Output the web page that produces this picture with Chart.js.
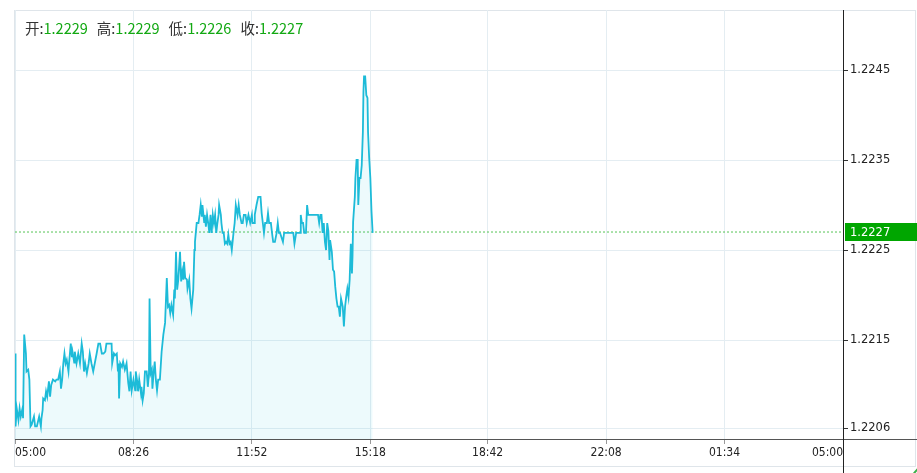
<!DOCTYPE html>
<html>
<head>
<meta charset="utf-8">
<script src="https://cdn.jsdelivr.net/npm/chart.js@4.4.1/dist/chart.umd.min.js"></script>
<style>
    html, body { margin: 0; padding: 0; background: #fff; }
</style>
</head>
<body>
<canvas id="chart" width="917" height="473"></canvas>
<script>
// minutes after 05:00
const minutes = [
    0, 1, 3, 6, 8, 10, 13, 14, 16, 19, 20, 23, 25, 27, 29, 33, 35, 38, 42, 45,
    46, 48, 49, 52, 54, 56, 59, 61, 63, 66, 70, 72, 75, 78, 80, 82, 84, 86, 88, 90,
    93, 94, 97, 99, 100, 103, 104, 107, 110, 113, 116, 118, 120, 122, 125, 128, 130, 133, 136, 139,
    142, 145, 148, 151, 154, 157, 159, 165, 168, 169, 172, 174, 177, 179, 180, 181, 183, 186, 188, 191,
    194, 197, 199, 201, 203, 206, 209, 210, 213, 214, 216, 219, 220, 222, 224, 226, 229, 231, 233, 234,
    236, 238, 239, 241, 243, 245, 247, 249, 252, 255, 258, 261, 264, 266, 268, 270, 272, 275, 277, 278,
    280, 282, 284, 287, 289, 291, 293, 294, 296, 299, 300, 303, 305, 307, 310, 312, 313, 316, 319, 321,
    323, 325, 326, 329, 330, 332, 334, 336, 338, 340, 342, 344, 346, 348, 350, 352, 354, 355, 358, 359,
    361, 363, 365, 367, 369, 371, 373, 375, 377, 380, 382, 384, 387, 389, 391, 394, 396, 398, 401, 403,
    406, 409, 412, 413, 416, 417, 420, 423, 427, 429, 431, 433, 435, 438, 440, 442, 445, 447, 449, 452,
    455, 457, 459, 461, 466, 468, 484, 486, 489, 496, 497, 499, 501, 503, 506, 508, 510, 527, 529, 531,
    533, 535, 537, 539, 541, 543, 545, 547, 548, 551, 553, 555, 557, 559, 561, 563, 565, 567, 570, 572,
    574, 576, 578, 580, 582, 584, 586, 587, 588, 591, 592, 594, 596, 597, 599, 601, 603, 605, 606, 607,
    609, 611, 612, 613, 614, 616, 618, 620, 622
];
const prices = [
    1.22135, 1.22054, 1.22074, 1.22061, 1.22074, 1.22065, 1.22074, 1.22063, 1.22156, 1.22135, 1.22115, 1.22117, 1.22106, 1.22054, 1.22056, 1.22065, 1.22054, 1.22054, 1.22065, 1.22054,
    1.22063, 1.22072, 1.22085, 1.22083, 1.22093, 1.22087, 1.22104, 1.22087, 1.22100, 1.22106, 1.22104, 1.22106, 1.22106, 1.22115, 1.22096, 1.22106, 1.22124, 1.22135, 1.22124, 1.22128,
    1.22115, 1.22124, 1.22146, 1.22131, 1.22137, 1.22125, 1.22137, 1.22124, 1.22135, 1.22124, 1.22146, 1.22137, 1.22115, 1.22124, 1.22113, 1.22124, 1.22135, 1.22124, 1.22115, 1.22125,
    1.22135, 1.22146, 1.22146, 1.22135, 1.22135, 1.22137, 1.22146, 1.22146, 1.22146, 1.22124, 1.22135, 1.22133, 1.22135, 1.22115, 1.22124, 1.22085, 1.22124, 1.22120, 1.22126, 1.22117,
    1.22124, 1.22102, 1.22093, 1.22115, 1.22094, 1.22106, 1.22094, 1.22115, 1.22102, 1.22093, 1.22106, 1.22091, 1.22098, 1.22083, 1.22091, 1.22115, 1.22115, 1.22098, 1.22113, 1.22196,
    1.22113, 1.22117, 1.22096, 1.22113, 1.22126, 1.22106, 1.22094, 1.22106, 1.22106, 1.22137, 1.22156, 1.22169, 1.22219, 1.22187, 1.22189, 1.22180, 1.22189, 1.22178, 1.22206, 1.22196,
    1.22248, 1.22206, 1.22217, 1.22248, 1.22215, 1.22226, 1.22217, 1.22237, 1.22219, 1.22217, 1.22207, 1.22217, 1.22196, 1.22185, 1.22206, 1.22250, 1.22259, 1.22280, 1.22280, 1.22289,
    1.22300, 1.22287, 1.22300, 1.22281, 1.22289, 1.22276, 1.22289, 1.22280, 1.22269, 1.22289, 1.22269, 1.22289, 1.22280, 1.22289, 1.22269, 1.22280, 1.22289, 1.22300, 1.22289, 1.22280,
    1.22269, 1.22269, 1.22257, 1.22259, 1.22257, 1.22267, 1.22257, 1.22259, 1.22250, 1.22269, 1.22280, 1.22300, 1.22289, 1.22300, 1.22289, 1.22280, 1.22280, 1.22289, 1.22289, 1.22280,
    1.22289, 1.22280, 1.22289, 1.22280, 1.22280, 1.22289, 1.22300, 1.22309, 1.22309, 1.22291, 1.22280, 1.22269, 1.22280, 1.22280, 1.22291, 1.22280, 1.22280, 1.22269, 1.22259, 1.22259,
    1.22269, 1.22280, 1.22269, 1.22269, 1.22259, 1.22269, 1.22269, 1.22257, 1.22269, 1.22269, 1.22289, 1.22280, 1.22280, 1.22269, 1.22269, 1.22300, 1.22289, 1.22289, 1.22280, 1.22289,
    1.22289, 1.22269, 1.22280, 1.22259, 1.22250, 1.22280, 1.22271, 1.22239, 1.22261, 1.22248, 1.22228, 1.22226, 1.22209, 1.22196, 1.22187, 1.22187, 1.22176, 1.22196, 1.22187, 1.22165,
    1.22187, 1.22198, 1.22207, 1.22198, 1.22217, 1.22257, 1.22224, 1.22243, 1.22281, 1.22309, 1.22330, 1.22350, 1.22350, 1.22300, 1.22330, 1.22330, 1.22344, 1.22381, 1.22426, 1.22443,
    1.22443, 1.22422, 1.22422, 1.22419, 1.22381, 1.22352, 1.22330, 1.22293, 1.22269
];

const xTickMinutes = [0, 206, 412, 618, 822, 1028, 1234, 1440];
const xTickLabels = ['05:00', '08:26', '11:52', '15:18', '18:42', '22:08', '01:34', '05:00'];
const yTickValues = [1.22052, 1.2215, 1.2225, 1.2235, 1.2245];
const yTickLabels = ['1.2206', '1.2215', '1.2225', '1.2235', '1.2245'];
const quoteNames = ['开', '高', '低', '收'];
const quoteValues = ['1.2229', '1.2229', '1.2226', '1.2227'];
const lastPrice = 1.2227;

const seriesPoints = minutes.map((m, i) => ({ x: m, y: prices[i] }));
const lastLine = [{ x: 0, y: lastPrice }, { x: 1440, y: lastPrice }];

// frame, extended axis lines, quote text and price tag
const decorPlugin = {
    id: 'decor',
    beforeDraw(chart) {
        const ctx = chart.ctx;
        ctx.save();
        ctx.strokeStyle = '#dfe5ea';
        ctx.lineWidth = 1;
        ctx.strokeRect(14.5, 10.5, 901, 456);
        ctx.restore();
    },
    afterDraw(chart) {
        const ctx = chart.ctx;
        const area = chart.chartArea;
        const yScale = chart.scales.y;
        ctx.save();

        // axis lines running into the margins
        ctx.strokeStyle = '#555';
        ctx.lineWidth = 1;
        ctx.beginPath();
        ctx.moveTo(area.left, Math.round(area.bottom) + 0.5);
        ctx.lineTo(917, Math.round(area.bottom) + 0.5);
        ctx.stroke();
        ctx.strokeStyle = '#222';
        ctx.beginPath();
        ctx.moveTo(Math.round(area.right) + 0.5, 10);
        ctx.lineTo(Math.round(area.right) + 0.5, 473);
        ctx.stroke();

        // current price tag
        const py = yScale.getPixelForValue(lastPrice);
        ctx.fillStyle = '#00a600';
        ctx.fillRect(area.right + 2, Math.round(py) - 9, 917 - area.right - 2, 18);
        ctx.fillStyle = '#fff';
        ctx.font = '11.5px "DejaVu Sans", sans-serif';
        ctx.textBaseline = 'middle';
        ctx.textAlign = 'left';
        ctx.fillText(lastPrice.toFixed(4), area.right + 7, Math.round(py) + 1);

        // open / high / low / close
        ctx.font = '14.5px "Noto Sans CJK SC", sans-serif';
        ctx.textBaseline = 'middle';
        let x = 25;
        quoteNames.forEach((name, i) => {
            ctx.fillStyle = '#333';
            ctx.fillText(name + ':', x, 28);
            x += ctx.measureText(name + ':').width;
            ctx.fillStyle = '#12a812';
            ctx.fillText(quoteValues[i], x, 28);
            x += ctx.measureText(quoteValues[i]).width + 9;
        });

        // corner logo fragment
        ctx.strokeStyle = '#3cb04a';
        ctx.lineWidth = 2;
        ctx.beginPath();
        ctx.arc(940, 492, 32, Math.PI * 1.05, Math.PI * 1.45);
        ctx.stroke();
        ctx.restore();
    }
};

const ctx = document.getElementById('chart').getContext('2d');
new Chart(ctx, {
    type: 'line',
    data: {
        datasets: [{
            data: seriesPoints,
            borderColor: '#1dbbd8',
            backgroundColor: 'rgba(29, 187, 216, 0.08)',
            borderWidth: 1.8,
            pointRadius: 0,
            tension: 0,
            fill: 'start'
        }, {
            data: lastLine,
            borderColor: '#55c455',
            borderWidth: 1,
            borderDash: [2, 2],
            pointRadius: 0,
            fill: false
        }]
    },
    options: {
        responsive: false,
        animation: false,
        layout: {
            padding: { left: 15, top: 10, right: 0, bottom: 0 }
        },
        plugins: {
            legend: { display: false },
            tooltip: { enabled: false }
        },
        scales: {
            x: {
                type: 'linear',
                min: 0,
                max: 1440,
                afterBuildTicks: scale => {
                    scale.ticks = xTickMinutes.map(v => ({ value: v }));
                },
                afterFit: scale => { scale.height = 34; },
                grid: {
                    color: '#e4edf2',
                    tickColor: '#999',
                    tickLength: 5
                },
                border: { color: '#555' },
                ticks: {
                    align: 'inner',
                    maxRotation: 0,
                    autoSkip: false,
                    padding: 2,
                    color: '#222',
                    font: { family: '"DejaVu Sans Condensed", "DejaVu Sans", sans-serif', size: 12 },
                    callback: function(value) {
                        const i = xTickMinutes.indexOf(value);
                        return i >= 0 ? xTickLabels[i] : '';
                    }
                }
            },
            y: {
                type: 'linear',
                position: 'right',
                min: 1.2204,
                max: 1.225167,
                afterBuildTicks: scale => {
                    scale.ticks = yTickValues.map(v => ({ value: v }));
                },
                afterFit: scale => { scale.width = 74; },
                grid: {
                    color: '#e4edf2',
                    tickColor: '#333',
                    tickLength: 5
                },
                border: { color: '#222' },
                ticks: {
                    padding: 2,
                    color: '#222',
                    font: { family: '"DejaVu Sans", sans-serif', size: 11.5 },
                    callback: function(value) {
                        const i = yTickValues.indexOf(value);
                        return i >= 0 ? yTickLabels[i] : '';
                    }
                }
            }
        }
    },
    plugins: [decorPlugin]
});
</script>
</body>
</html>
